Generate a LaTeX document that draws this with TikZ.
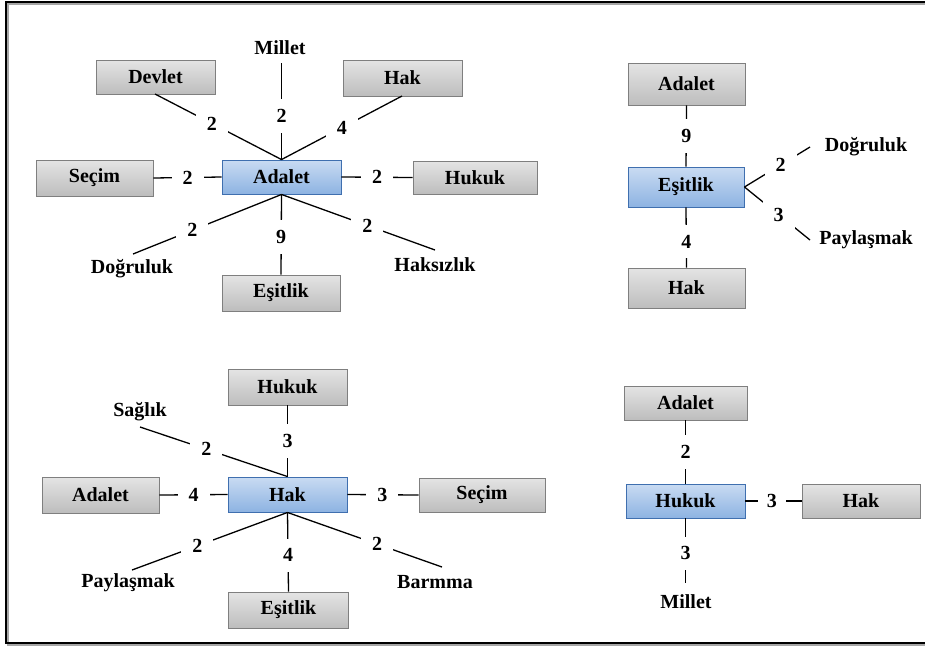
\documentclass[tikz,border=0pt]{standalone}
\usepackage{fontspec}
\setmainfont{Liberation Serif}
\definecolor{gtop}{HTML}{E4E4E4}
\definecolor{gbot}{HTML}{BDBDBD}
\definecolor{gline}{HTML}{7F7F7F}
\definecolor{btop}{HTML}{C9DBF2}
\definecolor{bbot}{HTML}{8DB3E2}
\definecolor{bline}{HTML}{3F6FAF}
\begin{document}
\begin{tikzpicture}[x=1pt,y=-1pt,
  every node/.style={font=\fontsize{20}{23}\selectfont\bfseries},
  gbox/.style={draw=gline, line width=0.9pt, top color=gtop, bottom color=gbot, minimum width=119pt, minimum height=36pt, inner sep=0pt},
  cbox/.style={draw=bline, line width=0.9pt, top color=btop, bottom color=bbot, minimum width=119pt, minimum height=34pt, inner sep=0pt},
  word/.style={inner sep=1pt},
  edge/.style={draw=black, line width=1.3pt},
  lab/.style={fill=white, inner xsep=11pt, inner ysep=10pt}]
\clip (0,0) rectangle (925,648);
\fill[white] (0,0) rectangle (925,648);
\draw[gray!70, line width=1.5pt] (932,4) -- (8,4) -- (8,645) -- (932,645);
\draw[black, line width=1.6pt] (932,2) -- (6,2) -- (6,643) -- (932,643);

% ---------- cluster 1: Adalet ----------
\node[cbox] (A1) at (281.5,177) {Adalet};
\node[gbox, minimum height=34pt] (dev1) at (155.5,77) {Devlet};
\node[gbox, minimum width=117pt] (sec1) at (94.5,178) {Seçim};
\node[gbox] (hak1) at (402.5,78) {Hak};
\node[gbox, minimum width=124pt, minimum height=33pt] (huk1) at (475,177.5) {Hukuk};
\node[gbox, minimum width=118pt] (esi1) at (281,293) {Eşitlik};
\node[word] (mil1) at (280,48) {Millet};
\node[word] (dog1) at (132,269) {Doğruluk};
\node[word] (hsz1) at (435,265) {Haksızlık};
\coordinate (mil1e) at (281.5,63);
\coordinate (dog1e) at (133,254);
\coordinate (hsz1e) at (435,250);
\coordinate (dev1e) at (155,94);
\coordinate (hak1e) at (402,96);

\draw[edge] (A1.north) -- node[lab, pos=0.45] {2} (mil1e);
\draw[edge] (A1.north) -- node[lab, pos=0.55] {2} (dev1e);
\draw[edge] (A1.north) -- node[lab, pos=0.5] {4} (hak1e);
\draw[edge] (sec1.east) -- node[lab, pos=0.5] {2} (A1.west);
\draw[edge] (A1.east) -- node[lab, pos=0.5] {2} (huk1.west);
\draw[edge] (A1.south) -- node[lab, pos=0.6] {2} (dog1e);
\draw[edge] (A1.south) -- node[lab, pos=0.53] {9} (esi1.north);
\draw[edge] (A1.south) -- node[lab, pos=0.56] {2} (hsz1e);

% ---------- cluster 2: Eşitlik ----------
\node[cbox, minimum width=116pt, minimum height=40pt] (E2) at (686,187) {Eşitlik};
\node[gbox, minimum width=117pt, minimum height=42pt] (ada2) at (686.5,84) {Adalet};
\node[gbox, minimum width=117pt, minimum height=40pt] (hak2) at (686.5,288) {Hak};
\node[word] (dog2) at (866,147) {Doğruluk};
\node[word] (pay2) at (866,240) {Paylaşmak};
\coordinate (dog2e) at (810,147);
\coordinate (pay2e) at (810,240);

\draw[edge] (ada2.south) -- node[lab, pos=0.5] {9} (E2.north);
\draw[edge] (E2.south) -- node[lab, pos=0.57] {4} (hak2.north);
\draw[edge] (E2.east) -- node[lab, pos=0.55] {2} (dog2e);
\draw[edge] (E2.east) -- node[lab, pos=0.52] {3} (pay2e);

% ---------- cluster 3: Hak ----------
\node[cbox, minimum height=35pt] (H3) at (287.5,494.5) {Hak};
\node[gbox] (huk3) at (287.5,387) {Hukuk};
\node[gbox, minimum width=117pt] (ada3) at (100.5,495) {Adalet};
\node[gbox, minimum width=126pt, minimum height=34pt] (sec3) at (482,495) {Seçim};
\node[gbox, minimum width=120pt] (esi3) at (288.5,610) {Eşitlik};
\node[word] (sag3) at (140,412) {Sağlık};
\node[word] (pay3) at (128,583) {Paylaşmak};
\node[word] (bar3) at (435,582) {Barmma};
\coordinate (sag3e) at (140,427);
\coordinate (pay3e) at (132,570);
\coordinate (bar3e) at (442,567);

\draw[edge] (H3.north) -- node[lab, pos=0.5] {3} (huk3.south);
\draw[edge] (H3.north) -- node[lab, pos=0.55] {2} (sag3e);
\draw[edge] (ada3.east) -- node[lab, pos=0.5] {4} (H3.west);
\draw[edge] (H3.east) -- node[lab, pos=0.49] {3} (sec3.west);
\draw[edge] (H3.south) -- node[lab, pos=0.58] {2} (pay3e);
\draw[edge] (H3.south) -- node[lab, pos=0.54] {4} (esi3.north);
\draw[edge] (H3.south) -- node[lab, pos=0.58] {2} (bar3e);

% ---------- cluster 4: Hukuk ----------
\node[cbox] (K4) at (685.5,501) {Hukuk};
\node[gbox, minimum width=123pt, minimum height=34pt] (ada4) at (685.5,403) {Adalet};
\node[gbox, minimum width=118pt, minimum height=34pt] (hak4) at (861,501) {Hak};
\node[word] (mil4) at (686,602) {Millet};
\coordinate (mil4e) at (685.5,583);

\draw[edge] (ada4.south) -- node[lab, pos=0.5] {2} (K4.north);
\draw[edge] (K4.east) -- node[lab, inner xsep=9pt, pos=0.47] {3} (hak4.west);
\draw[edge] (K4.south) -- node[lab, pos=0.54] {3} (mil4e);
\end{tikzpicture}
\end{document}
